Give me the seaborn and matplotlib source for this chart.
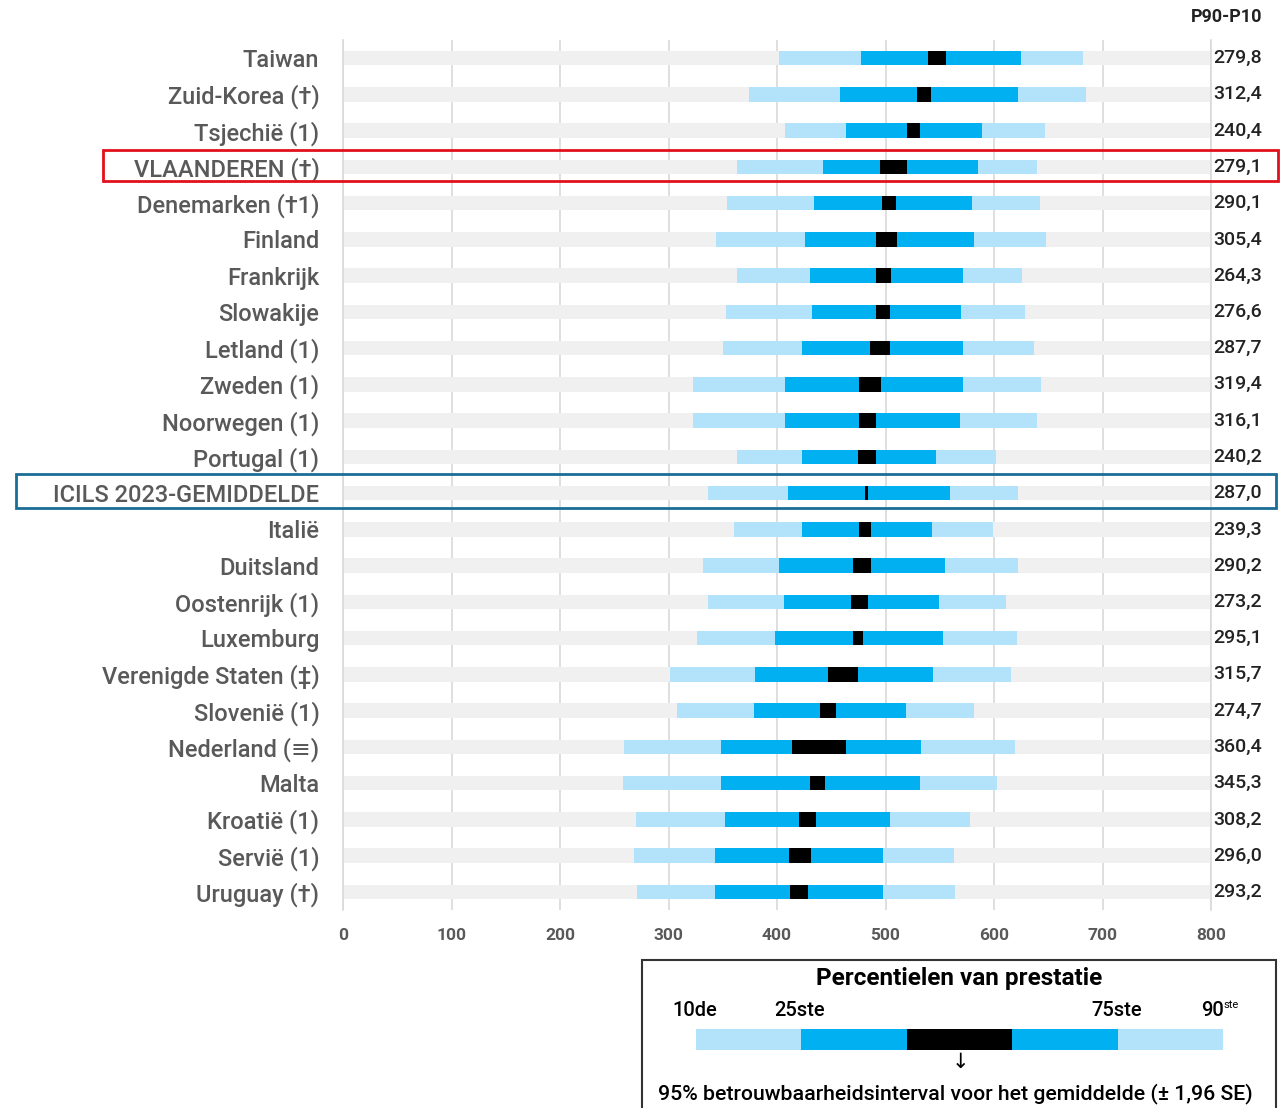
import matplotlib
matplotlib.use("Agg")
import matplotlib.pyplot as plt
from matplotlib.patches import Rectangle
import seaborn as sns
import pandas as pd

sns.set_theme(style="white")
plt.rcParams['font.family'] = ['Roboto', 'DejaVu Sans']

landen = ["Taiwan", "Zuid-Korea (†)", "Tsjechië (1)", "VLAANDEREN (†)", "Denemarken (†1)",
          "Finland", "Frankrijk", "Slowakije", "Letland (1)", "Zweden (1)", "Noorwegen (1)",
          "Portugal (1)", "ICILS 2023-GEMIDDELDE", "Italië", "Duitsland", "Oostenrijk (1)",
          "Luxemburg", "Verenigde Staten (‡)", "Slovenië (1)", "Nederland (≡)", "Malta",
          "Kroatië (1)", "Servië (1)", "Uruguay (†)"]
p10 = [402, 374, 407, 363, 354, 344, 363, 353, 350, 323, 323, 363, 336, 360, 332, 336,
       326, 301, 308, 259, 258, 270, 268, 271]
p25 = [477, 458, 464, 442, 434, 426, 430, 432, 423, 407, 407, 423, 410, 423, 402, 406,
       398, 380, 379, 348, 348, 352, 343, 343]
ci_laag = [539, 529, 520, 495, 497, 491, 491, 491, 486, 476, 476, 475, 481, 476, 470, 468,
           470, 447, 440, 414, 430, 420, 411, 412]
ci_hoog = [556, 542, 532, 520, 510, 511, 505, 504, 504, 496, 491, 491, 484, 487, 487, 484,
           479, 475, 454, 464, 444, 436, 431, 429]
p75 = [625, 622, 589, 585, 580, 582, 571, 570, 571, 571, 569, 547, 559, 543, 555, 549,
       553, 544, 519, 533, 532, 504, 498, 498]
p90 = [682, 685, 647, 640, 642, 648, 626, 629, 637, 643, 640, 602, 622, 599, 622, 611,
       621, 616, 582, 619, 603, 578, 563, 564]
spreiding = [279.8, 312.4, 240.4, 279.1, 290.1, 305.4, 264.3, 276.6, 287.7, 319.4, 316.1,
             240.2, 287.0, 239.3, 290.2, 273.2, 295.1, 315.7, 274.7, 360.4, 345.3, 308.2,
             296.0, 293.2]
x_ticks = [0, 100, 200, 300, 400, 500, 600, 700, 800]
legend_labels = ["10de", "25ste", "75ste", "90"]

W, H = 1281, 1108
LICHT = "#b3e3fb"
DONKER = "#00b0f0"
GRIJS = "#f0f0f0"
LIJN = "#d9d9d9"
TEKST = "#595959"

df = pd.DataFrame({"land": landen, "p10": p10, "p25": p25, "ci_laag": ci_laag,
                   "ci_hoog": ci_hoog, "p75": p75, "p90": p90})
df["vol"] = max(x_ticks)

fig = plt.figure(figsize=(W / 100, H / 100), dpi=100)
ax = fig.add_axes([343 / W, 1 - 910 / H, (1211 - 343) / W, (910 - 40) / H])

# layers painted from the outside in
lagen = [("vol", GRIJS), ("p90", LICHT), ("p75", DONKER), ("ci_hoog", "black"),
         ("ci_laag", DONKER), ("p25", LICHT), ("p10", GRIJS)]
for kol, kleur in lagen:
    sns.barplot(data=df, x=kol, y="land", orient="h", color=kleur, saturation=1,
                width=0.4, ax=ax, errorbar=None, linewidth=0)

ax.set_xlim(0, 800)
ax.set_xticks(x_ticks)
ax.set_xticklabels([str(t) for t in x_ticks])
ax.set_xlabel("")
ax.set_ylabel("")
ax.set_axisbelow(True)
ax.grid(axis="x", color=LIJN, lw=1.2)
ax.grid(axis="y", visible=False)
for s in ["top", "bottom"]:
    ax.spines[s].set_visible(False)
for s in ["left", "right"]:
    ax.spines[s].set_color(LIJN)
    ax.spines[s].set_linewidth(1.2)
ax.tick_params(axis="y", length=0, pad=17, labelsize=17, labelcolor=TEKST)
ax.tick_params(axis="x", length=0, pad=13, labelsize=12.5, labelcolor=TEKST)
for lab in ax.get_xticklabels():
    lab.set_fontweight("bold")
for lab in ax.get_yticklabels():
    lab.set_fontweight("medium")

for i, v in enumerate(spreiding):
    ax.text(1.0588, i, f"{v:.1f}".replace(".", ","), transform=ax.get_yaxis_transform(),
            ha="right", va="center", fontsize=14, color="#222222", fontweight="medium")
fig.text(1262 / W, 1 - 17 / H, "P90-P10", ha="right", va="center", fontsize=13,
         fontweight="bold", color="#222222")

# highlight boxes
fig.patches.append(Rectangle((103 / W, 1 - 181 / H), (1278 - 103) / W, 31 / H,
                             transform=fig.transFigure, fill=False, ec="#e2101c", lw=2))
fig.patches.append(Rectangle((16 / W, 1 - 508 / H), (1276 - 16) / W, 34 / H,
                             transform=fig.transFigure, fill=False, ec="#1a6e96", lw=2))

# legend
fig.patches.append(Rectangle((642 / W, -0.01), (1276 - 642) / W, 0.01 + (H - 960) / H,
                             transform=fig.transFigure, fill=False, ec="#333333", lw=1.5))
fig.text(959 / W, 1 - 978 / H, "Percentielen van prestatie", ha="center", va="center",
         fontsize=17.5, fontweight="bold", color="black")
lax = fig.add_axes([696 / W, 1 - 1050 / H, (1223 - 696) / W, 21 / H])
grenzen = [0, 1, 2, 3, 4, 5]
kleuren = [LICHT, DONKER, "black", DONKER, LICHT]
lax.barh([0] * 5, [b - a for a, b in zip(grenzen[:-1], grenzen[1:])], left=grenzen[:-1],
         color=kleuren, height=1, linewidth=0)
lax.set_xlim(0, 5)
lax.set_ylim(-0.5, 0.5)
lax.axis("off")
for xp, lab in zip([695, 800, 1117], legend_labels[:3]):
    fig.text(xp / W, 1 - 1011 / H, lab, ha="center", va="center", fontsize=14.5,
             color="black", fontweight="medium")
fig.text(1213 / W, 1 - 1011 / H, legend_labels[3], ha="center", va="center", fontsize=14.5,
         color="black", fontweight="medium")
fig.text(1223 / W, 1 - 1005 / H, "ste", ha="left", va="center", fontsize=8, color="black")
fig.text(960 / W, 1 - 1062 / H, "↓", ha="center", va="center", fontsize=15, color="black",
         family=["DejaVu Sans"])
fig.text(955 / W, 1 - 1094 / H,
         "95% betrouwbaarheidsinterval voor het gemiddelde (± 1,96 SE)",
         ha="center", va="center", fontsize=15.3, color="black", fontweight="medium")

fig.savefig("out.png", dpi=100)
